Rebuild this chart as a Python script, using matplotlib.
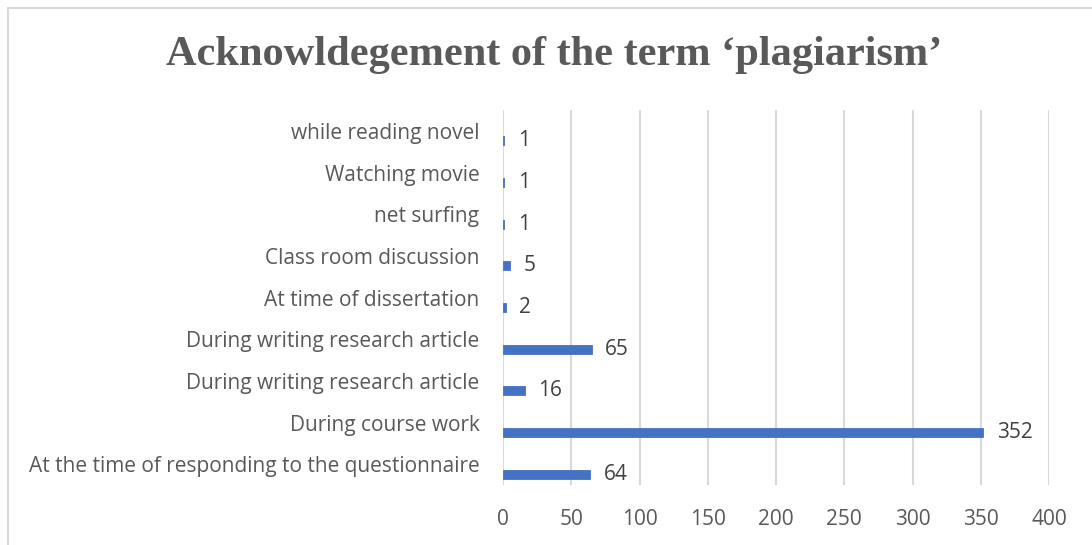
import numpy as np
import matplotlib.pyplot as plt
from matplotlib.patches import Rectangle

# categories listed bottom -> top, as in the chart
categories = [
    "At the time of responding to the questionnaire",
    "During course work",
    "During writing research article",
    "During writing research article",
    "At time of dissertation",
    "Class room discussion",
    "net surfing",
    "Watching movie",
    "while reading novel",
]
counts = [64, 352, 16, 65, 2, 5, 1, 1, 1]
xticks = [0, 50, 100, 150, 200, 250, 300, 350, 400]

bar_color = "#4472C4"
text_color = "#595959"
grid_color = "#D9D9D9"
font = "Open Sans"

fig = plt.figure(figsize=(10.92, 5.45), dpi=100)
ax = fig.add_axes([503 / 1092, 1 - 485 / 545, 546 / 1092, 375 / 545])

# chart frame (only top/left visible in the crop)
fig.patches.append(Rectangle((8 / 1092, -0.1), 1.2, 1 - 8 / 545 + 0.1,
                             transform=fig.transFigure, fill=False,
                             edgecolor="#D9D9D9", linewidth=1.5))

pos = np.arange(len(categories))
# Excel leaves an empty second-series slot, so bars sit below the label
ax.barh(pos - 0.24, counts, height=0.22, color=bar_color,
        edgecolor=bar_color, linewidth=0.6)

for y, v in zip(pos, counts):
    ax.text(v + 10, y - 0.24, str(v), va="center", ha="left",
            fontsize=15, color="#404040", family=font)

ax.set_xlim(0, 400)
ax.set_ylim(-0.5, len(categories) - 0.5)
ax.set_xticks(xticks)
ax.set_yticks(pos)
ax.set_yticklabels(categories)
ax.tick_params(axis="both", length=0, labelsize=15, labelcolor=text_color)
ax.tick_params(axis="y", pad=17)
ax.tick_params(axis="x", pad=17)
for lab in ax.get_xticklabels() + ax.get_yticklabels():
    lab.set_family(font)

ax.xaxis.grid(True, color=grid_color, linewidth=1.5)
ax.set_axisbelow(True)
for s in ax.spines.values():
    s.set_visible(False)

fig.text(554 / 1092, 1 - 55 / 545, "Acknowldegement of the term \u2018plagiarism\u2019",
         ha="center", va="center", fontsize=30.5, fontweight="bold",
         family="Liberation Serif", color=text_color)

fig.savefig("out.png", dpi=100)
